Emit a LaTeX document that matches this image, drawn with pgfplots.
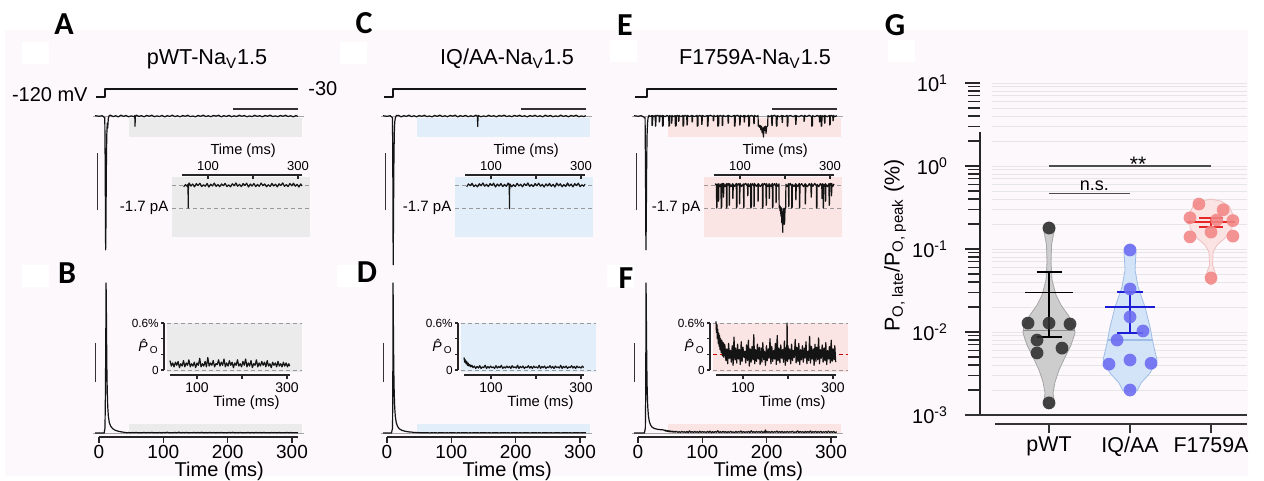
\documentclass[border=0pt]{standalone}
\usepackage{fontspec}
\setmainfont{Liberation Sans}
\newfontfamily\letterfont{Carlito}
\usepackage{pgfplots}
\usepackage{pgfplotstable}
\pgfplotsset{compat=1.18}

\definecolor{page}{HTML}{FCF8FC}
\definecolor{shA}{HTML}{EBEBEB}
\definecolor{shC}{HTML}{E2EFFB}
\definecolor{shE}{HTML}{FBE4E4}
\definecolor{gridc}{HTML}{E6E6E6}
\definecolor{vioA}{HTML}{CDCDCD}
\definecolor{vioAd}{HTML}{A5A5A5}
\definecolor{dotA}{HTML}{2E2E2E}
\definecolor{vioC}{HTML}{D4E4F8}
\definecolor{vioCd}{HTML}{9EBDE6}
\definecolor{dotC}{HTML}{6B6BF2}
\definecolor{barC}{HTML}{1C1CD6}
\definecolor{vioE}{HTML}{FBE3E3}
\definecolor{vioEd}{HTML}{EEC0C0}
\definecolor{dotE}{HTML}{F28686}
\definecolor{barE}{HTML}{E52626}

\newcommand{\fs}[1]{\fontsize{#1}{#1}\selectfont}

\pgfplotsset{
  tr axis/.style={scale only axis, hide axis, clip=false, anchor=north west,
    xmin=-15, xmax=330, width=110.97pt},
  tr/.style={black!92, line width=0.6pt, line join=round},
  cells/.style={only marks, mark=*, mark size=3.2pt,
    mark options={draw opacity=0, fill=#1, fill opacity=0.88}},
}
\tikzset{
  basel/.style={black!35, line width=0.35pt},
  sbar/.style={black!80, line width=0.6pt},
  ax/.style={black!85, line width=0.55pt},
  dsh/.style={black!40, line width=0.35pt, dash pattern=on 2pt off 1.5pt},
  lab/.style={font=\fs{#1}, inner sep=0.5pt, text=black},
}

% single-channel current, pA
\pgfplotstableread{
t I
-6 0.05
0 -0.04
5 0.05
9 -0.3
9.6 -8
10.3 -22.3
10.8 -18
11.4 -9
12 -3.5
12.8 -1.2
13.5 -2.0
14.5 -0.4
16 0.1
18 0.12
22 -0.10
26 0.05
30 -0.15
34 0.14
38 -0.06
42 0.09
46 -0.13
50 0.03
54 -0.11
55.6 0.05
56 -1.7
56.5 -0.1
58 0.15
62 -0.08
66 0.07
70 -0.14
74 0.10
78 -0.04
82 0.13
86 -0.12
90 0.02
94 -0.09
98 0.11
102 -0.15
106 0.06
110 -0.07
114 0.14
118 -0.10
122 0.04
126 -0.13
130 0.08
134 -0.05
138 0.12
142 -0.11
146 0.01
150 -0.14
154 0.09
158 -0.06
162 0.15
166 -0.09
170 0.05
174 -0.12
178 0.10
182 -0.03
186 0.13
190 -0.15
194 0.07
198 -0.08
202 0.11
206 -0.12
210 0.04
214 -0.10
218 0.14
222 -0.05
226 0.08
230 -0.13
234 0.02
238 -0.11
242 0.12
246 -0.07
250 0.06
254 -0.14
258 0.09
262 -0.04
266 0.15
270 -0.10
274 0.03
278 -0.12
282 0.11
286 -0.06
290 0.13
294 -0.09
298 0.05
302 -0.15
306 0.08
309 -0.07
}\topA

\pgfplotstableread{
t I
-6 0.04
0 -0.05
5 0.05
8.5 -0.3
9.0 -8
9.6 -24.8
10.1 -17
10.7 -8
11.3 -3
12 -1.0
13 -0.3
14.5 0.08
18 0.11
22 -0.15
26 0.06
30 -0.07
34 0.14
38 -0.10
42 0.04
46 -0.13
50 0.08
54 -0.05
58 0.12
62 -0.11
66 0.01
70 -0.14
74 0.09
78 -0.06
82 0.15
86 -0.09
90 0.05
94 -0.12
98 0.10
102 -0.03
106 0.13
110 -0.15
114 0.07
118 -0.08
122 0.11
126 -0.12
130 0.04
134 -0.10
138 0.14
140.6 -0.05
141 -1.75
141.5 -0.08
142 0.08
146 -0.13
150 0.02
154 -0.11
158 0.12
162 -0.07
166 0.06
170 -0.14
174 0.09
178 -0.04
182 0.15
186 -0.10
190 0.03
194 -0.12
198 0.11
202 -0.06
206 0.13
210 -0.09
214 0.05
218 -0.15
222 0.08
226 -0.07
230 0.12
234 -0.10
238 0.05
242 -0.15
246 0.14
250 -0.06
254 0.09
258 -0.13
262 0.03
266 -0.11
270 0.15
274 -0.08
278 0.07
282 -0.14
286 0.10
290 -0.04
294 0.13
298 -0.12
302 0.02
306 -0.09
309 0.06
}\topC

\pgfplotstableread{
t I
-6 0.05
0 -0.04
5 0.05
11 -0.3
11.6 -8
12.3 -22.3
12.8 -18
13.4 -9
14 -3.5
14.8 -1.2
15.5 -0.4
17 0.1
19 -0.1
21.5 0.08
21.8 -1.6
22.6 -1.5
22.9 0.05
25 -0.1
26.8 0.1
27.1 -1.7
27.7 -1.6
28 0.0
30.5 0.12
32.8 -0.05
33.1 -1.0
33.6 -0.9
33.9 0.1
36 -0.1
37.8 0.1
38.1 -1.7
39.1 -1.6
39.4 0.05
42 -0.12
45 0.1
47.8 -0.06
48.1 -1.7
48.9 -1.6
49.2 0.08
51.8 -0.1
52.1 -1.2
52.6 -1.1
52.9 0.1
55 -0.12
57.8 0.08
58.1 -1.7
59.3 -1.6
59.6 0.0
61 0.12
62.8 -0.1
63.1 -0.9
63.6 -0.8
63.9 0.1
66.5 -0.12
69.8 0.1
70.1 -1.7
70.9 -1.6
71.2 -0.05
73.5 0.12
75.8 -0.08
76.1 -1.5
76.7 -1.4
77 0.1
80 -0.12
83.8 0.1
84.1 -1.0
84.6 -0.9
84.9 0.05
88 -0.1
91.8 0.12
92.1 -1.7
93.1 -1.6
93.4 -0.05
96 0.1
98.8 -0.1
99.1 -1.4
99.6 -1.3
99.9 0.12
103.5 -0.1
107.8 0.08
108.1 -1.7
108.9 -1.6
109.2 0.0
112.5 0.12
116.8 -0.1
117.1 -0.8
117.6 -0.7
117.9 0.1
121 -0.12
123.8 0.1
124.1 -1.7
125.3 -1.6
125.6 -0.05
128 0.1
130.8 -0.1
131.1 -1.6
131.7 -1.5
132 0.12
136 -0.1
139.8 0.08
140.1 -1.2
140.6 -1.1
140.9 0.1
145 -0.12
149.8 0.1
150.1 -1.7
150.9 -1.6
151.2 0.0
154.5 0.12
157.8 -0.1
158.1 -1.5
158.7 -1.4
159 0.1
162 -0.12
164.8 0.1
165.1 -1.0
165.6 -0.9
165.9 0.05
169 -0.1
171.8 0.12
172.1 -1.7
173.1 -1.6
173.4 -0.05
176.5 0.1
179.8 -0.1
180.1 -1.3
180.6 -1.2
180.9 0.12
184 -0.1
186.6 0.08
187 -1.7
188 -1.5
189 -1.9
190 -1.6
191 -2.3
192 -1.7
193 -2.8
194 -2.0
195 -3.5
196 -1.8
197 -2.4
198 -1.7
199 -2.9
200 -1.8
201.5 -1.7
202 0.05
205 -0.12
207.8 0.1
208.1 -1.6
208.7 -1.5
209 0.0
212 0.12
214.8 -0.1
215.1 -1.7
216.1 -1.6
216.4 0.05
220 -0.12
223.8 0.1
224.1 -1.1
224.6 -1.0
224.9 0.05
228.5 -0.1
231.8 0.12
232.1 -1.7
232.9 -1.6
233.2 -0.05
237 0.1
241 -0.12
244.8 0.1
245.1 -1.4
245.7 -1.3
246 0.05
250 -0.12
254 0.1
257.8 -0.1
258.1 -0.9
258.6 -0.8
258.9 0.12
262 -0.1
266 0.12
269.8 -0.08
270.1 -1.7
271.1 -1.6
271.4 0.05
275 -0.12
278.5 0.1
281.8 -0.1
282.1 -1.0
282.6 -0.9
282.9 0.1
284.6 -0.05
284.9 -1.7
285.7 -1.6
286 0.05
288 -0.1
289.8 0.1
290.1 -1.2
290.6 -1.1
290.9 0.05
294 -0.12
297.8 0.1
298.1 -1.5
298.7 -1.4
299 0.0
301 0.12
302.8 -0.1
303.1 -0.8
303.6 -0.7
303.9 0.1
306 -0.12
309 0.08
}\topE

% ensemble open probability, %
\pgfplotstableread{
t P
-6 0
8 0
9.3 1
10 8
10.6 20
11 30
11.5 24
12.1 14
12.8 8.5
13.6 5.2
14.6 3.3
16 2.1
18 1.4
21 0.9
25 0.55
30 0.35
35 0.22
40 0.12
43 0.05
46 0.09
49 0.04
52 0.10
55 0.06
58 0.11
61 0.03
64 0.08
67 0.05
70 0.12
73 0.04
76 0.09
79 0.06
82 0.13
85 0.04
88 0.08
91 0.05
94 0.10
97 0.03
100 0.09
103 0.06
106 0.15
109 0.04
112 0.08
115 0.05
118 0.11
121 0.04
124 0.16
127 0.05
130 0.09
133 0.06
136 0.12
139 0.04
142 0.08
145 0.07
148 0.13
151 0.05
154 0.10
157 0.06
160 0.14
163 0.04
166 0.09
169 0.05
172 0.12
175 0.06
178 0.10
181 0.03
184 0.09
187 0.06
190 0.13
193 0.05
196 0.08
199 0.04
202 0.11
205 0.06
208 0.14
211 0.04
214 0.09
217 0.05
220 0.12
223 0.03
226 0.08
229 0.06
232 0.13
235 0.04
238 0.09
241 0.05
244 0.11
247 0.06
250 0.10
253 0.04
256 0.12
259 0.05
262 0.08
265 0.03
268 0.10
271 0.06
274 0.09
277 0.04
280 0.11
283 0.05
286 0.08
289 0.04
292 0.10
295 0.05
298 0.09
301 0.04
304 0.08
306 0.05
309 0.06
}\botA

\pgfplotstableread{
t P
-6 0
7 0
8.6 1
9.0 8
9.4 30
9.9 22
10.5 13
11.2 8
12 5
13 3.2
14.5 2
16.5 1.3
19 0.85
23 0.55
28 0.35
34 0.22
40 0.16
41.5 0.10
43 0.13
44.5 0.08
46 0.11
47.5 0.06
49 0.09
51 0.05
53 0.07
55 0.04
57.5 0.06
60 0.03
63 0.05
66 0.02
69 0.045
72 0.025
75 0.055
78 0.02
81 0.04
84 0.03
87 0.06
90 0.02
93 0.045
96 0.025
99 0.05
102 0.03
105 0.04
108 0.02
111 0.055
114 0.025
117 0.045
120 0.03
123 0.06
126 0.02
129 0.04
132 0.025
135 0.05
138 0.03
141 0.045
144 0.02
147 0.055
150 0.03
153 0.04
156 0.025
159 0.06
162 0.02
165 0.045
168 0.03
171 0.05
174 0.02
177 0.04
180 0.03
183 0.055
186 0.025
189 0.045
192 0.02
195 0.05
198 0.03
201 0.04
204 0.025
207 0.06
210 0.02
213 0.045
216 0.03
219 0.05
222 0.02
225 0.04
228 0.03
231 0.055
234 0.025
237 0.045
240 0.02
243 0.05
246 0.03
249 0.04
252 0.025
255 0.06
258 0.02
261 0.045
264 0.03
267 0.05
270 0.02
273 0.04
276 0.03
279 0.055
282 0.025
285 0.045
288 0.02
291 0.05
294 0.03
297 0.04
300 0.025
303 0.05
306 0.03
309 0.04
}\botC

\pgfplotstableread{
t P
-6 0
10 0
11.4 1
12 8
12.5 30
13 23
13.6 14
14.3 8.5
15.1 5.3
16.2 3.4
17.6 2.3
19.5 1.6
22 1.15
25.5 0.9
30 0.75
35 0.66
40 0.62
41 0.48
42 0.58
43 0.40
44 0.52
45 0.34
46 0.47
47 0.30
48 0.44
49 0.26
50 0.40
51.5 0.22
53 0.38
54.5 0.18
56 0.35
57.5 0.16
59 0.33
60 0.30
62 0.12
64 0.27
66 0.08
68 0.34
70 0.15
72 0.25
74 0.10
76 0.31
78 0.06
80 0.42
82 0.13
84 0.28
86 0.09
88 0.33
90 0.14
92 0.26
94 0.07
96 0.36
98 0.11
100 0.29
102 0.16
104 0.24
106 0.09
108 0.32
110 0.12
112 0.38
114 0.05
116 0.27
118 0.10
120 0.30
122 0.13
124 0.45
126 0.08
128 0.26
130 0.11
132 0.33
134 0.14
136 0.29
138 0.07
140 0.28
142 0.10
144 0.35
146 0.13
148 0.24
150 0.06
152 0.31
154 0.12
156 0.27
158 0.15
160 0.40
162 0.08
164 0.30
166 0.11
168 0.25
170 0.14
172 0.34
174 0.07
176 0.44
178 0.12
180 0.28
182 0.09
184 0.32
186 0.15
188 0.26
190 0.10
192 0.37
194 0.06
196 0.29
197 0.12
198 0.60
199 0.11
200 0.31
202 0.14
204 0.27
206 0.08
208 0.33
210 0.12
212 0.25
214 0.16
216 0.39
218 0.09
220 0.29
222 0.11
224 0.34
226 0.07
228 0.26
230 0.13
232 0.31
234 0.10
236 0.28
238 0.15
240 0.36
242 0.08
244 0.24
246 0.12
248 0.43
250 0.09
252 0.30
254 0.14
256 0.27
258 0.06
260 0.33
262 0.11
264 0.29
266 0.13
268 0.41
270 0.08
272 0.26
274 0.15
276 0.32
278 0.10
280 0.28
282 0.12
284 0.35
286 0.07
288 0.25
290 0.14
292 0.30
294 0.09
296 0.38
298 0.11
300 0.27
302 0.13
304 0.31
306 0.10
309 0.22
}\botE

% positions in reference pixels (1 px = 0.5 pt, y downwards)
% #1 t=0 px, #2 top inset 100 ms px, #3 bottom inset 100 ms px, #4 shade,
% #5 current table, #6 Po table, #7 step time, #8 extra in Po inset
\newcommand{\tracecol}[8]{%
  \begin{axis}[tr axis, at={({(#1-9.645)*0.5pt},{-40pt})}, ymin=-153.75, ymax=71.25, height=10pt]
    \addplot[tr, line width=0.6pt] coordinates {(-4,-120) (#7,-120) (#7,-30) (309,-30)};
  \end{axis}
  \begin{axis}[tr axis, at={({(#1-9.645)*0.5pt},{-50pt})}, ymin=-23.1667, ymax=2.6667, height=77.5pt]
    \fill[#4] (axis cs:46,-0.33) rectangle (axis cs:316,-3.5);
    \draw[basel] (axis cs:-9,0) -- (axis cs:318,0);
    \draw[sbar] (axis cs:209,1.17) -- (axis cs:309,1.17);
    \draw[sbar] (axis cs:-2,-6.2) -- (axis cs:-2,-15.7);
    \addplot[tr] table {#5};
  \end{axis}
  \begin{axis}[tr axis, at={({(#2-36)*0.5pt},{-88.5pt})}, xmin=20, xmax=327, width=69.075pt,
      ymin=-3.84, ymax=0.59, height=30pt]
    \fill[#4] (rel axis cs:0,0) rectangle (rel axis cs:1,1);
    \draw[dsh] (axis cs:20,0) -- (axis cs:327,0);
    \draw[dsh] (axis cs:20,-1.7) -- (axis cs:327,-1.7);
    \draw[ax] (axis cs:43,0.74) -- (axis cs:309,0.74);
    \draw[ax] (axis cs:100,0.74) -- (axis cs:100,0.44);
    \draw[ax] (axis cs:200,0.74) -- (axis cs:200,0.44);
    \draw[ax] (axis cs:300,0.74) -- (axis cs:300,0.44);
    \node[lab=6.5] at (axis cs:100,1.38) {100};
    \node[lab=6.5] at (axis cs:300,1.38) {300};
    \node[lab=7.3] at (axis cs:178,2.55) {Time (ms)};
    \node[lab=7.5, anchor=east] at (axis cs:15,-1.7) {-1.7 pA};
    \addplot[tr, restrict x to domain=44:309] table {#5};
  \end{axis}
  \begin{axis}[tr axis, at={({(#1-9.645)*0.5pt},{-137.5pt})}, ymin=-0.8, ymax=31.6, height=81pt]
    \fill[#4] (axis cs:46,0) rectangle (axis cs:316,1.8);
    \draw[basel] (axis cs:-9,0) -- (axis cs:318,0);
    \draw[sbar] (axis cs:-6,10.2) -- (axis cs:-6,18);
    \draw[ax] (axis cs:0,-0.8) -- (axis cs:310,-0.8);
    \draw[ax] (axis cs:0,-0.8) -- (axis cs:0,-2.0);
    \draw[ax] (axis cs:100,-0.8) -- (axis cs:100,-2.0);
    \draw[ax] (axis cs:200,-0.8) -- (axis cs:200,-2.0);
    \draw[ax] (axis cs:300,-0.8) -- (axis cs:300,-2.0);
    \node[lab=9.5] at (axis cs:0,-3.7) {0};
    \node[lab=9.5] at (axis cs:100,-3.7) {100};
    \node[lab=9.5] at (axis cs:200,-3.7) {200};
    \node[lab=9.5] at (axis cs:300,-3.7) {300};
    \node[lab=10] at (axis cs:187,-7.6) {Time (ms)};
    \addplot[tr] table {#6};
  \end{axis}
  \begin{axis}[tr axis, at={({(#3-30)*0.5pt},{-161.5pt})}, xmin=33.333, xmax=333.333, width=67.5pt,
      ymin=-0.02553, ymax=0.6, height=24.5pt]
    \fill[#4] (rel axis cs:0,0) rectangle (rel axis cs:1,1);
    \draw[dsh] (axis cs:33.3,0.6) -- (axis cs:333.3,0.6);
    \draw[dsh] (axis cs:33.3,0) -- (axis cs:333.3,0);
    #8
    \draw[ax] (axis cs:26.7,0) -- (axis cs:26.7,0.6);
    \draw[ax] (axis cs:26.7,0) -- (axis cs:20,0);
    \draw[ax] (axis cs:26.7,0.2) -- (axis cs:20,0.2);
    \draw[ax] (axis cs:26.7,0.4) -- (axis cs:20,0.4);
    \draw[ax] (axis cs:26.7,0.6) -- (axis cs:20,0.6);
    \node[lab=5.9, anchor=east] at (axis cs:18,0.6) {0.6\%};
    \node[lab=5.9, anchor=east] at (axis cs:18,0) {0};
    \node[lab=7, anchor=east] at (axis cs:18,0.3) {\textit{\^P}\textsubscript{O}};
    \draw[ax] (axis cs:40,-0.0638) -- (axis cs:306.7,-0.0638);
    \draw[ax] (axis cs:100,-0.0638) -- (axis cs:100,-0.115);
    \draw[ax] (axis cs:200,-0.0638) -- (axis cs:200,-0.115);
    \draw[ax] (axis cs:300,-0.0638) -- (axis cs:300,-0.115);
    \node[lab=7] at (axis cs:100,-0.23) {100};
    \node[lab=7] at (axis cs:300,-0.23) {300};
    \node[lab=7.4] at (axis cs:210,-0.42) {Time (ms)};
    \addplot[tr, restrict x to domain=40:307] table {#6};
  \end{axis}
}

\begin{document}
\begin{tikzpicture}[x=0.5pt, y=-0.5pt]
\useasboundingbox (0,0) rectangle (1264,481);
\fill[white] (0,0) rectangle (1264,481);
\fill[page] (5,30) rectangle (1248,476);
\foreach \a/\b in {22/42, 22/265, 340/42, 337/265, 610/40, 607/265, 888/40}
  \fill[white] (\a,\b) rectangle ++(27,22);

\foreach \l/\x/\y in {A/64/24, B/67/273, C/364/23, D/367/272, E/625/25, F/626/278, G/895/25}
  \node[font=\letterfont\bfseries\fs{16}] at (\x,\y) {\l};

\node[font=\fs{10.8}, anchor=base] at (207,65) {pWT-Na\textsubscript{V}1.5};
\node[font=\fs{10.8}, anchor=base] at (507,65) {IQ/AA-Na\textsubscript{V}1.5};
\node[font=\fs{10.8}, anchor=base] at (755,65) {F1759A-Na\textsubscript{V}1.5};
\node[font=\fs{10}, anchor=east, inner sep=0pt] at (88,95) {-120 mV};
\node[font=\fs{10}, anchor=west, inner sep=0pt] at (308,89) {-30};

\tracecol{99}{208}{197}{shA}{\topA}{\botA}{9.3}{}
\tracecol{387}{491}{491}{shC}{\topC}{\botC}{9.4}{}
\tracecol{638}{740}{743}{shE}{\topE}{\botE}{14}{\draw[red!80!black, line width=0.4pt, dash pattern=on 2pt off 1.5pt] (axis cs:33.3,0.204) -- (axis cs:333.3,0.204);}

\begin{axis}[
  at={(490pt,-41.5pt)}, anchor=north west, scale only axis,
  width=133.5pt, height=166pt,
  xmin=0.148, xmax=3.444, ymode=log, ymin=1e-3, ymax=10,
  clip=false, axis line style={draw=none},
  xtick={1,2,3}, xticklabels={pWT,IQ/AA,F1759A},
  xtick style={draw=none},
  xticklabel style={font=\fs{10.7}, yshift=0pt},
  ytick={1e-3,1e-2,1e-1,1,10},
  yticklabels={10\textsuperscript{-3},10\textsuperscript{-2},10\textsuperscript{-1},10\textsuperscript{0},10\textsuperscript{1}},
  minor ytick={2e-3,3e-3,4e-3,5e-3,6e-3,7e-3,8e-3,9e-3,2e-2,3e-2,4e-2,5e-2,6e-2,7e-2,8e-2,9e-2,0.2,0.3,0.4,0.5,0.6,0.7,0.8,0.9,2,3,4,5,6,7,8,9},
  ytick pos=left, tick align=outside,
  major tick length=7.5pt, minor tick length=6pt,
  tick style={black!85, line width=0.6pt},
  yticklabel style={font=\fs{10}, xshift=-5pt},
]
\pgfplotsinvokeforeach{2e-3,3e-3,4e-3,5e-3,6e-3,7e-3,8e-3,9e-3,1e-2,2e-2,3e-2,4e-2,5e-2,6e-2,7e-2,8e-2,9e-2,0.1,0.2,0.3,0.4,0.5,0.6,0.7,0.8,0.9,1,2,3,4,5,6,7,8,9,10}{
  \draw[gridc, line width=0.4pt] (axis cs:0.296,#1) -- (axis cs:3.444,#1);
}
\draw[black!85, line width=0.65pt] (axis cs:0.148,2.57) -- (axis cs:0.148,1e-3);
\draw[black!80, line width=0.65pt] (axis cs:-0.037,1e-3) -- (axis cs:3.444,1e-3);
\draw[black!80, line width=0.65pt] (axis cs:0.333,7.8e-4) -- (axis cs:3.444,7.8e-4);
\draw[black!80, line width=0.6pt] (axis cs:1,7.8e-4) -- (axis cs:1,6.07e-4);
\draw[black!80, line width=0.6pt] (axis cs:2,7.8e-4) -- (axis cs:2,6.07e-4);
\draw[black!80, line width=0.6pt] (axis cs:3,7.8e-4) -- (axis cs:3,6.07e-4);
\node[rotate=90, font=\fs{10.7}, inner sep=0pt] at (rel axis cs:-0.318,0.51)
  {P\textsubscript{O, late}/P\textsubscript{O, peak} (\%)};

% violins
\addplot[fill=vioA, draw=vioAd, line width=0.4pt] coordinates {
(1,0.2113) (1.049,0.200) (1.074,0.179) (1.056,0.1517) (1.031,0.1117) (1.025,0.0697)
(1.037,0.0423) (1.086,0.0279) (1.148,0.0211) (1.235,0.01603) (1.309,0.01214) (1.321,0.00972)
(1.272,0.00697) (1.198,0.00500) (1.123,0.00348) (1.074,0.00250) (1.049,0.00184) (1.062,0.00152)
(1.049,0.00132) (1,0.00118) (0.951,0.00132) (0.938,0.00152) (0.951,0.00184) (0.926,0.00250)
(0.877,0.00348) (0.802,0.00500) (0.728,0.00697) (0.679,0.00972) (0.691,0.01214) (0.765,0.01603)
(0.852,0.0211) (0.914,0.0279) (0.963,0.0423) (0.975,0.0697) (0.969,0.1117) (0.944,0.1517)
(0.926,0.179) (0.951,0.200) (1,0.2113)};
\addplot[fill=vioC, draw=vioCd, line width=0.4pt] coordinates {
(2,0.1117) (2.049,0.106) (2.074,0.0920) (2.068,0.0737) (2.062,0.0558) (2.099,0.0349)
(2.185,0.0200) (2.247,0.01148) (2.284,0.00737) (2.333,0.00460) (2.247,0.00321) (2.136,0.00243)
(2.086,0.00195) (1.914,0.00195) (1.864,0.00243) (1.753,0.00321) (1.667,0.00460) (1.716,0.00737)
(1.753,0.01148) (1.815,0.0200) (1.901,0.0349) (1.938,0.0558) (1.932,0.0737) (1.926,0.0920)
(1.951,0.106) (2,0.1117)};
\addplot[fill=vioE, draw=vioEd, line width=0.4pt] coordinates {
(3,0.400) (3.123,0.378) (3.222,0.330) (3.272,0.257) (3.259,0.179) (3.173,0.1358)
(3.074,0.1117) (3.025,0.0920) (3.0185,0.0641) (3.049,0.0528) (3.062,0.0448) (3.037,0.0389)
(3,0.0368) (2.963,0.0389) (2.938,0.0448) (2.951,0.0528) (2.9815,0.0641) (2.975,0.0920)
(2.926,0.1117) (2.827,0.1358) (2.741,0.179) (2.728,0.257) (2.778,0.330) (2.877,0.378) (3,0.400)};

% medians
\addplot[black!45, line width=0.5pt] coordinates {(0.679,0.0103) (1.321,0.0103)};
\addplot[vioCd, line width=0.6pt] coordinates {(1.73,0.0080) (2.27,0.0080)};

% cells
\addplot[cells=dotA] coordinates {
(1,0.179) (0.741,0.0128) (1,0.0128) (1.259,0.0125) (0.852,0.0080) (1.160,0.0064) (0.852,0.0056) (1,0.0014)};
\addplot[cells=dotC] coordinates {
(2,0.0973) (2,0.0330) (2,0.0152) (2.16,0.0103) (1.84,0.0080) (1.74,0.0041) (2,0.0046) (2.26,0.0042) (2,0.0020)};
\addplot[cells=dotE] coordinates {
(2.85,0.348) (3.15,0.297) (2.74,0.238) (3.07,0.224) (3.27,0.22) (2.74,0.140) (3.0,0.160) (3.27,0.143) (3.0,0.0448)};

% mean and SEM
\addplot[black, line width=0.85pt] coordinates {(0.704,0.030) (1.296,0.030)};
\addplot[black, line width=0.85pt] coordinates {(1,0.0087) (1,0.0528)};
\addplot[black, line width=0.85pt] coordinates {(0.846,0.0528) (1.154,0.0528)};
\addplot[black, line width=0.85pt] coordinates {(0.846,0.0087) (1.154,0.0087)};
\addplot[barC, line width=0.85pt] coordinates {(1.691,0.0200) (2.309,0.0200)};
\addplot[barC, line width=0.85pt] coordinates {(2,0.0097) (2,0.0303)};
\addplot[barC, line width=0.85pt] coordinates {(1.84,0.0303) (2.16,0.0303)};
\addplot[barC, line width=0.85pt] coordinates {(1.84,0.0097) (2.16,0.0097)};
\addplot[barE, line width=0.85pt] coordinates {(2.704,0.211) (3.296,0.211)};
\addplot[barE, line width=0.85pt] coordinates {(3,0.184) (3,0.236)};
\addplot[barE, line width=0.85pt] coordinates {(2.852,0.236) (3.148,0.236)};
\addplot[barE, line width=0.85pt] coordinates {(2.852,0.184) (3.148,0.184)};

% significance
\draw[black!70, line width=0.6pt] (axis cs:1,1.0) -- (axis cs:3,1.0);
\node[font=\fs{10.5}, anchor=base, inner sep=0pt] at (axis cs:2.1,0.86) {**};
\draw[black!70, line width=0.6pt] (axis cs:1,0.469) -- (axis cs:2,0.469);
\node[font=\fs{9}, anchor=base, inner sep=0pt] at (axis cs:1.56,0.5) {n.s.};
\end{axis}
\end{tikzpicture}
\end{document}
